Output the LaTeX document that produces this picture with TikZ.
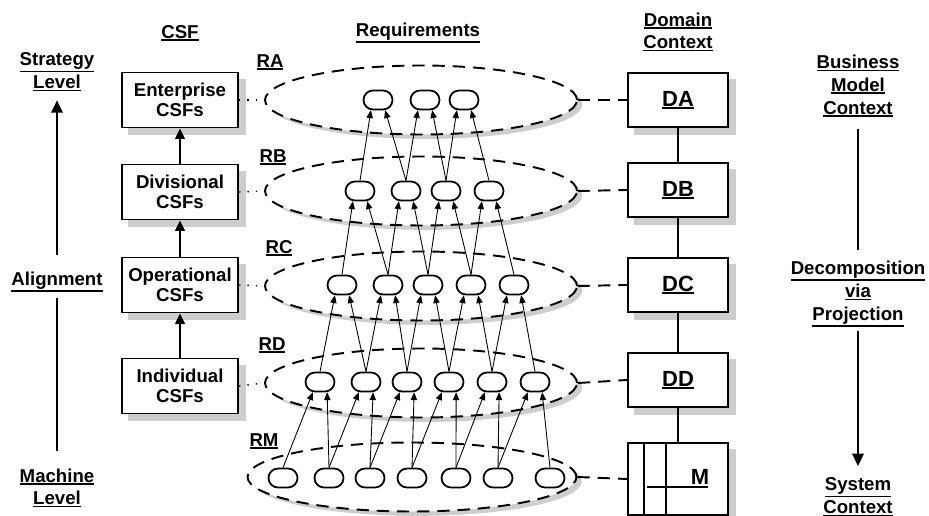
\documentclass[tikz,border=0pt]{standalone}
\usepackage{fontspec}
\setmainfont{Liberation Sans}
\usetikzlibrary{arrows.meta,shapes.geometric,shapes.misc,backgrounds}
\definecolor{shadowgray}{RGB}{205,205,205}
\newcommand{\hdline}[1]{\setbox0=\hbox{#1}\dimen0=\dp0\advance\dimen0 by 0.5pt\leavevmode\rlap{\vrule width\wd0 height -\dimen0 depth \dimexpr\dimen0+0.9pt\relax}\box0}

\begin{document}
\begin{tikzpicture}[x=0.02cm,y=-0.02cm,
    hdr/.style={font=\bfseries\fontsize{10.6}{13}\selectfont, align=center, inner sep=1pt},
    lbl/.style={font=\bfseries\fontsize{10.6}{12}\selectfont, inner sep=1pt},
    csfbox/.style={draw, line width=1.1pt, fill=white, minimum width=2.32cm, minimum height=1.1cm, align=center,
      font=\bfseries\fontsize{10.6}{11.6}\selectfont},
    dombox/.style={csfbox, minimum width=2cm, minimum height=1.07cm, font=\bfseries\fontsize{12.5}{14}\selectfont},
    reqset/.style={ellipse, draw, dash pattern=on 7pt off 4.5pt, line width=1.1pt, fill=white,
      minimum width=6.24cm, minimum height=1.38cm, inner sep=0pt},
    req/.style={rounded rectangle, draw, line width=1pt, fill=white, minimum width=0.58cm, minimum height=0.38cm, inner sep=0pt},
    reqarrow/.style={-{Triangle[length=4.5pt,width=3.6pt]}, line width=0.5pt},
    csfarrow/.style={-{Triangle[length=6pt,width=5.5pt]}, line width=1.1pt},
    bigarrow/.style={-{Triangle[length=7pt,width=6.5pt]}, line width=1.1pt},
    dotconn/.style={line width=0.8pt, dash pattern=on 0.8pt off 4pt},
    dashconn/.style={line width=1.1pt, dash pattern=on 7pt off 4.5pt}
  ]
  \useasboundingbox (0,0) rectangle (929,516);

  % column headings
  \node[hdr] (hCSF) at (180,33) {\hdline{CSF}};
  \node[hdr] (hReq) at (418,33) {\hdline{Requirements}};
  \node[hdr] (hDom) at (678,32) {\hdline{Domain}\\\hdline{Context}};

  % left side
  \node[hdr] (strat) at (57,72) {\hdline{Strategy}\\\hdline{Level}};
  \node[hdr] (align) at (57,282) {\hdline{Alignment}};
  \node[hdr] (mach) at (57,488) {\hdline{Machine}\\\hdline{Level}};
  \draw[line width=1.1pt, shorten <=2pt, shorten >=8.5pt] (align.south) -- (mach.north);
  \draw[bigarrow, shorten <=8.5pt, shorten >=4pt] (align.north) -- (strat.south);

  % right side
  \node[hdr] (bmc) at (858,86) {\hdline{Business}\\\hdline{Model}\\\hdline{Context}};
  \node[hdr] (decomp) at (858,294) {\hdline{Decomposition}\\\hdline{via}\\\hdline{Projection}};
  \node[hdr] (sysc) at (858,497) {\hdline{System}\\\hdline{Context}};
  \draw[line width=1.1pt, shorten <=5.5pt, shorten >=5pt] (bmc.south) -- (decomp.north);
  \draw[bigarrow, shorten <=1pt, shorten >=5.5pt] (decomp.south) -- (sysc.north);

  % CSF column
  \node[csfbox] (csfA) at (180,100) {Enterprise\\CSFs};
  \node[csfbox] (csfB) at (180,192) {Divisional\\CSFs};
  \node[csfbox] (csfC) at (180,285) {Operational\\CSFs};
  \node[csfbox] (csfD) at (180,386) {Individual\\CSFs};
  \foreach \lo/\up in {B/A,C/B,D/C}
    \draw[csfarrow] (csf\lo) -- (csf\up);

  % requirement sets
  \node[reqset] (eA) at (421,100) {};
  \node[reqset] (eB) at (421,191) {};
  \node[reqset] (eC) at (421,286) {};
  \node[reqset] (eD) at (421,383) {};
  \node[reqset, minimum width=6.58cm] (eM) at (412,477) {};
  \node[lbl] (labA) at (270,62) {\hdline{RA}};
  \node[lbl] (labB) at (273,157) {\hdline{RB}};
  \node[lbl] (labC) at (279,248) {\hdline{RC}};
  \node[lbl] (labD) at (272,345) {\hdline{RD}};
  \node[lbl] (labM) at (264,441) {\hdline{RM}};

  \foreach \x [count=\i] in {378,425,464}
    \node[req] (rA\i) at (\x,100) {};
  \foreach \x [count=\i] in {360,406,446,489}
    \node[req] (rB\i) at (\x,191) {};
  \foreach \x [count=\i] in {342,388,428,471,514}
    \node[req] (rC\i) at (\x,285) {};
  \foreach \x [count=\i] in {320,366,407,449,492,535}
    \node[req] (rD\i) at (\x,382) {};
  \foreach \x [count=\i] in {283,329,370,412,456,498,550}
    \node[req] (rM\i) at (\x,478) {};

  \foreach \up/\lo/\n in {A/B/3,B/C/4,C/D/5,D/M/6}{
    \foreach \i in {1,...,\n}{
      \pgfmathtruncatemacro{\j}{\i+1}
      \draw[reqarrow] (r\lo\i.north) -- (r\up\i.-125);
      \draw[reqarrow] (r\lo\j.north) -- (r\up\i.-55);
    }
  }

  % domain column
  \node[dombox] (dA) at (678,100) {\hdline{DA}};
  \node[dombox] (dB) at (678,190) {\hdline{DB}};
  \node[dombox] (dC) at (678,285) {\hdline{DC}};
  \node[dombox] (dD) at (678,380) {\hdline{DD}};
  \node[dombox, minimum height=1.44cm] (dM) at (678,479) {};
  \draw[line width=1pt] (644,443) -- (644,515);
  \draw[line width=1pt] (666,443) -- (666,515);
  \draw[line width=1pt] (647,487) -- (708,487);
  \node[font=\bfseries\fontsize{12.5}{14}\selectfont, inner sep=0pt] (mLab) at (700,477) {M};
  \foreach \up/\lo in {A/B,B/C,C/D,D/M}
    \draw[line width=1.1pt] (d\up) -- (d\lo);

  \foreach \r in {A,B,C,D}
    \draw[dotconn] (csf\r.east) -- (e\r.west);
  \foreach \r in {A,B,C,D,M}
    \draw[dashconn] (e\r.east) -- (d\r.west);

  % shadows
  \begin{scope}[on background layer]
    \foreach \b in {csfA,csfB,csfC,csfD,dA,dB,dC,dD,dM}
      \fill[shadowgray] ([shift={(4pt,-4pt)}]\b.south west) rectangle ([shift={(4pt,-4pt)}]\b.north east);
    \foreach \e/\w in {eA/3.12,eB/3.12,eC/3.12,eD/3.12,eM/3.29}
      \fill[shadowgray] ([shift={(3pt,-2.5pt)}]\e.center) ellipse [x radius=\w cm, y radius=0.69cm];
  \end{scope}
\end{tikzpicture}
\end{document}
